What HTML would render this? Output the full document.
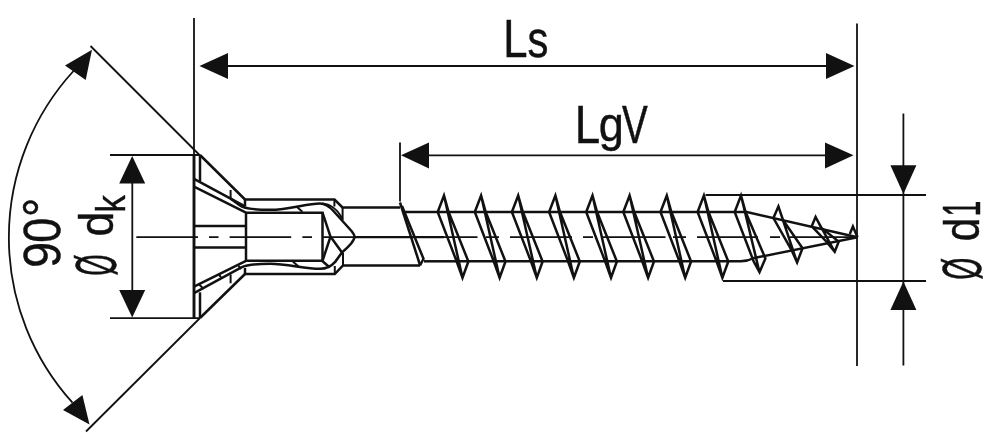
<!DOCTYPE html>
<html><head><meta charset="utf-8"><style>
html,body{margin:0;padding:0;background:#fff;width:1000px;height:441px;overflow:hidden}
svg{display:block}
.t{font-family:"Liberation Sans",sans-serif;fill:#111111}
</style></head><body>
<svg width="1000" height="441" viewBox="0 0 1000 441">
<rect width="1000" height="441" fill="#fff"/>
<g stroke="#111111" fill="none" stroke-linecap="butt" stroke-linejoin="miter">
<path d="M194,18 V155" stroke-width="1.8" />
<path d="M857,23.5 V366" stroke-width="1.8" />
<path d="M226,66 H828" stroke-width="1.8" />
<polygon points="199.5,66 228,53 228,79" fill="#111111" stroke="none"/>
<polygon points="854.5,66 826,53 826,79" fill="#111111" stroke="none"/>
<path d="M400,142.5 V201.5" stroke-width="1.8" />
<path d="M427,155.3 H827" stroke-width="1.8" />
<polygon points="401,155.3 429,142.5 429,168.5" fill="#111111" stroke="none"/>
<polygon points="853.5,155.3 825,142.5 825,168.5" fill="#111111" stroke="none"/>
<path d="M705.5,195 H926" stroke-width="1.8" />
<path d="M723,281 H926" stroke-width="1.8" />
<path d="M903.4,113.5 V365.5" stroke-width="1.8" />
<polygon points="903.4,194 890.4,165.3 916.4,165.3" fill="#111111" stroke="none"/>
<polygon points="903.4,281.5 890.4,310 916.4,310" fill="#111111" stroke="none"/>
<path d="M110,155 H200" stroke-width="1.8" />
<path d="M110,318.2 H200" stroke-width="1.8" />
<path d="M132.3,181 V293" stroke-width="1.8" />
<polygon points="132.2,156 119.2,183.6 145.2,183.6" fill="#111111" stroke="none"/>
<polygon points="132.2,317.5 119.2,290 145.2,290" fill="#111111" stroke="none"/>
<path d="M90.5,46 L200,155.5" stroke-width="1.8" />
<path d="M200,318 L86,431.5" stroke-width="1.8" />
<path d="M73.5,71.0 A246.5,246.5 0 0 0 72.5,402.7" stroke-width="1.8" fill="none"/>
<polygon points="92,49.7 65,65.5 85.7,80" fill="#111111" stroke="none"/>
<polygon points="89.5,424.6 63,410 82.4,395" fill="#111111" stroke="none"/>
<path d="M136.3,237.1 H198 M209,237.1 H218.5 M229.6,237.1 H291.2 M302.4,237.1 H312 M322.4,237.1 H477.5 M486,237.1 H499 M510,237.1 H572 M583,237.1 H593 M603,237.1 H665.5 M673,237.1 H686 M697,237.1 H758 M770,237.1 H780 M790,237.1 H857" stroke-width="1.6" />
<path d="M354,237.1 H444" stroke-width="2.2" />
<path d="M194,155 V318" stroke-width="2.9" />
<path d="M200,155 L245,199.5" stroke-width="2.5" />
<path d="M200,318 L245,274" stroke-width="2.5" />
<path d="M200,155 V181" stroke-width="2.5" />
<path d="M200,318 V292.3" stroke-width="2.5" />
<path d="M245,199.5 H334.5 L342.5,207.5 H400" stroke-width="2.5" />
<path d="M245,274 H334.8 L343,265.5 H420" stroke-width="2.5" />
<path d="M245,199.5 V206.5" stroke-width="2.5" />
<path d="M245,274 V268" stroke-width="2.5" />
<path d="M194,178.8 L230.6,198.6 C235,201.5 238,204.5 242,206.6 C248,209.3 255,209.8 270,209.8 C290,209.8 306,203.4 320,203.4 C325,203.4 329,206 333,210.5 L351.5,231 C353.5,233.5 354.5,235 354.5,236.7 C354.5,240 350,245.5 342,252.4 L335.4,261.6 C332,265.5 328,268.8 320,268.8 C304,268.8 288,263.8 270,263.8 C258,263.8 248,264.3 240.9,267.6 L194,293.2" stroke-width="2.5" fill="none"/>
<path d="M230.6,198.6 L245,206.4" stroke-width="2.5" />
<path d="M194,186.7 L246,212.7 M246,212.7 H322.5 V260.8 H246 Z" stroke-width="2.5" fill="none"/>
<path d="M194,286.6 L246,260.8" stroke-width="2.5" />
<path d="M194,226 H246 M194,247.5 H246" stroke-width="2.5" />
<path d="M322.5,212.7 L330.5,236.7 L322.5,260.8 M330.8,237 L342,252.4 M322.3,261 L329.8,267.5" stroke-width="2.5" fill="none"/>
<path d="M334.4,199.6 V206.5 M342.6,207.7 V220" stroke-width="2.0" fill="none"/>
<path d="M334.8,274 V266 M343,265.5 V252.4" stroke-width="2.0" fill="none"/>
<path d="M322,203.5 C330,204 338,209.5 342.6,219.5" stroke-width="2.0" fill="none"/>
<path d="M230.6,190 V198.6 M230.6,274.5 V283.3" stroke-width="2.0" />
<path d="M296.4,206.4 L302.4,211.8 M292.8,261.4 L298.8,266.8" stroke-width="2.0" />
<path d="M199.2,284.5 L203.6,289 M218.8,274.3 L221,277.3 M238.5,266 L241,269" stroke-width="2.0" />
<path d="M400,202.5 L420,265" stroke-width="2.5" />
<path d="M402,206 L423.5,258.8 L420,265.5" stroke-width="2.5" fill="none"/>
<path d="M405,212 H437" stroke-width="2.5" />
<path d="M424,261.3 H456" stroke-width="2.5" />
<path d="M437.7,212 L444.0,195.5 L448.6,212 L468.4,261.5 L462.5,277.8 L456.7,261.5 Z M444.0,195.5 L462.5,277.8" stroke-width="2.5" fill="none" stroke-linejoin="miter"/>
<path d="M474.8,212 L481.1,195.5 L485.7,212 L505.5,261.5 L499.6,277.8 L493.8,261.5 Z M481.1,195.5 L499.6,277.8" stroke-width="2.5" fill="none" stroke-linejoin="miter"/>
<path d="M511.9,212 L518.2,195.5 L522.9,212 L542.6,261.5 L536.8,277.8 L531.0,261.5 Z M518.2,195.5 L536.8,277.8" stroke-width="2.5" fill="none" stroke-linejoin="miter"/>
<path d="M549.1,212 L555.4,195.5 L560.0,212 L579.8,261.5 L573.9,277.8 L568.1,261.5 Z M555.4,195.5 L573.9,277.8" stroke-width="2.5" fill="none" stroke-linejoin="miter"/>
<path d="M586.2,212 L592.5,195.5 L597.1,212 L616.9,261.5 L611.0,277.8 L605.2,261.5 Z M592.5,195.5 L611.0,277.8" stroke-width="2.5" fill="none" stroke-linejoin="miter"/>
<path d="M623.3,212 L629.6,195.5 L634.2,212 L654.0,261.5 L648.1,277.8 L642.3,261.5 Z M629.6,195.5 L648.1,277.8" stroke-width="2.5" fill="none" stroke-linejoin="miter"/>
<path d="M660.5,212 L666.8,195.5 L671.4,212 L691.1,261.5 L685.2,277.8 L679.5,261.5 Z M666.8,195.5 L685.2,277.8" stroke-width="2.5" fill="none" stroke-linejoin="miter"/>
<path d="M697.6,212 L703.9,195.5 L708.5,212 L728.3,261.5 L722.4,277.8 L716.6,261.5 Z M703.9,195.5 L722.4,277.8" stroke-width="2.5" fill="none" stroke-linejoin="miter"/>
<path d="M734.7,212 L741.0,195.5 L745.6,212 L765.4,258.5 L759.5,272.2 L753.7,261.5 Z M741.0,195.5 L759.5,272.2" stroke-width="2.5" fill="none" stroke-linejoin="miter"/>
<path d="M437,212 H746.8 L857.5,237.3" stroke-width="2.5" fill="none"/>
<path d="M456,261.3 H740 Q747,261.5 754,258 L857.5,237.3" stroke-width="2.5" fill="none"/>
<path d="M773.4,218 L778.4,206.4 L783,220 L802.5,248.2 L797.1,262.5 L791.7,250.4 Z M778.4,206.4 L797.1,262.5" stroke-width="2.5" fill="none"/>
<path d="M811.7,226.2 L815.6,217 L821.2,227.8 L838.7,241.6 L834.7,251.8 L826.7,242 Z M815.6,217 L834.7,251.8" stroke-width="2.5" fill="none"/>
<path d="M849.8,234 L852.9,226.5 L857.5,237.3" stroke-width="2.5" fill="none"/>
</g>
<g class="t" style="opacity:0.999" stroke="#111111" stroke-width="0.9">
<text font-size="100" transform="matrix(0.4364,0,0,0.5353,503.30,56.60)">L</text>
<text font-size="100" transform="matrix(0.4183,0,0,0.5260,527.45,56.57)">s</text>
<text font-size="100" transform="matrix(0.4568,0,0,0.5411,574.83,142.90)">L</text>
<text font-size="100" transform="matrix(0.4511,0,0,0.4859,598.68,141.32)">g</text>
<text font-size="100" transform="matrix(0.3863,0,0,0.5411,622.01,142.90)">V</text>
<text font-size="100" transform="matrix(0,-0.2844,0.5280,0,979.50,216.53)">1</text>
<text font-size="100" transform="matrix(0,-0.4222,0.4939,0,979.01,241.29)">d</text>
<text font-size="100" transform="matrix(0,-0.2837,0.5622,0,980.89,279.76)">Ø</text>
<text font-size="100" transform="matrix(0,-0.4929,0.5333,0,61.00,217.26)">°</text>
<text font-size="100" transform="matrix(0,-0.4482,0.5272,0,60.37,242.79)">0</text>
<text font-size="100" transform="matrix(0,-0.4649,0.5272,0,60.37,267.71)">9</text>
<text font-size="100" transform="matrix(0,-0.3538,0.4083,0,125.10,212.79)">k</text>
<text font-size="100" transform="matrix(0,-0.4444,0.4857,0,113.41,236.39)">d</text>
<text font-size="100" transform="matrix(0,-0.2752,0.5662,0,115.58,275.73)">Ø</text>
</g>
</svg>
</body></html>
